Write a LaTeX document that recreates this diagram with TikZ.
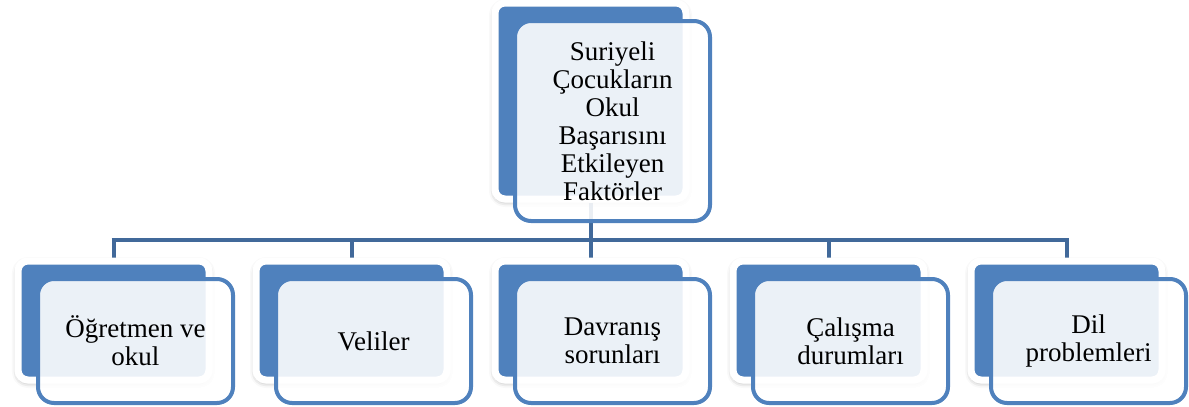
\documentclass[tikz,border=0pt]{standalone}
\usepackage{fontspec}
\setmainfont{Liberation Serif}
\usetikzlibrary{positioning,backgrounds,shadows.blur}
\definecolor{smBlue}{HTML}{4F81BD}
\definecolor{smLine}{HTML}{41699A}
\tikzset{
  hBack/.style={draw=white, line width=7pt, fill=smBlue, rounded corners=10pt,
    inner sep=0pt,
    blur shadow={shadow xshift=0pt, shadow yshift=-2pt, shadow blur radius=6pt, shadow opacity=40}},
  hFront/.style={draw=smBlue, line width=4pt, fill=white, fill opacity=0.89, text opacity=1,
    rounded corners=16pt, inner sep=0pt, align=center,
    font=\fontsize{27}{28}\selectfont},
  %% tree links
  hLink/.style={draw=smLine, line width=4pt},
}

\begin{document}
\begin{tikzpicture}[x=1pt, y=-1pt]
\useasboundingbox (0,0) rectangle (1189,407);

% top box
\node[hBack, minimum width=191pt, minimum height=196pt] (rootB) at (590.5,101) {};
\node[hFront, minimum width=195pt, minimum height=200pt] (rootF) at ([shift={(22,20)}]rootB.center)
  {Suriyeli\\Çocukların\\Okul\\Başarısını\\Etkileyen\\Faktörler};

% children
\foreach \i/\x/\txt in {1/113.5/{Öğretmen ve\\okul}, 2/351.5/Veliler, 3/590.5/{Davranış\\sorunları},
                        4/828.5/{Çalışma\\durumları}, 5/1066.5/{Dil\\problemleri}} {
  \node[hBack, minimum width=191pt, minimum height=119pt] (kidB\i) at (\x,320.5) {};
  \node[hFront, minimum width=195pt, minimum height=124pt] (kidF\i) at ([shift={(22,20.5)}]kidB\i.center) {\txt};
}

\coordinate (bar) at (0,240);
\begin{scope}[on background layer]
  \draw[hLink] (rootB.south) -- (rootB.south |- bar);
  \draw[hLink] ([xshift=-2pt]kidB1.north |- bar) -- ([xshift=2pt]kidB5.north |- bar);
  \foreach \i in {1,...,5}
    \draw[hLink] (kidB\i.north |- bar) -- (kidB\i.north);
\end{scope}
\end{tikzpicture}
\end{document}
